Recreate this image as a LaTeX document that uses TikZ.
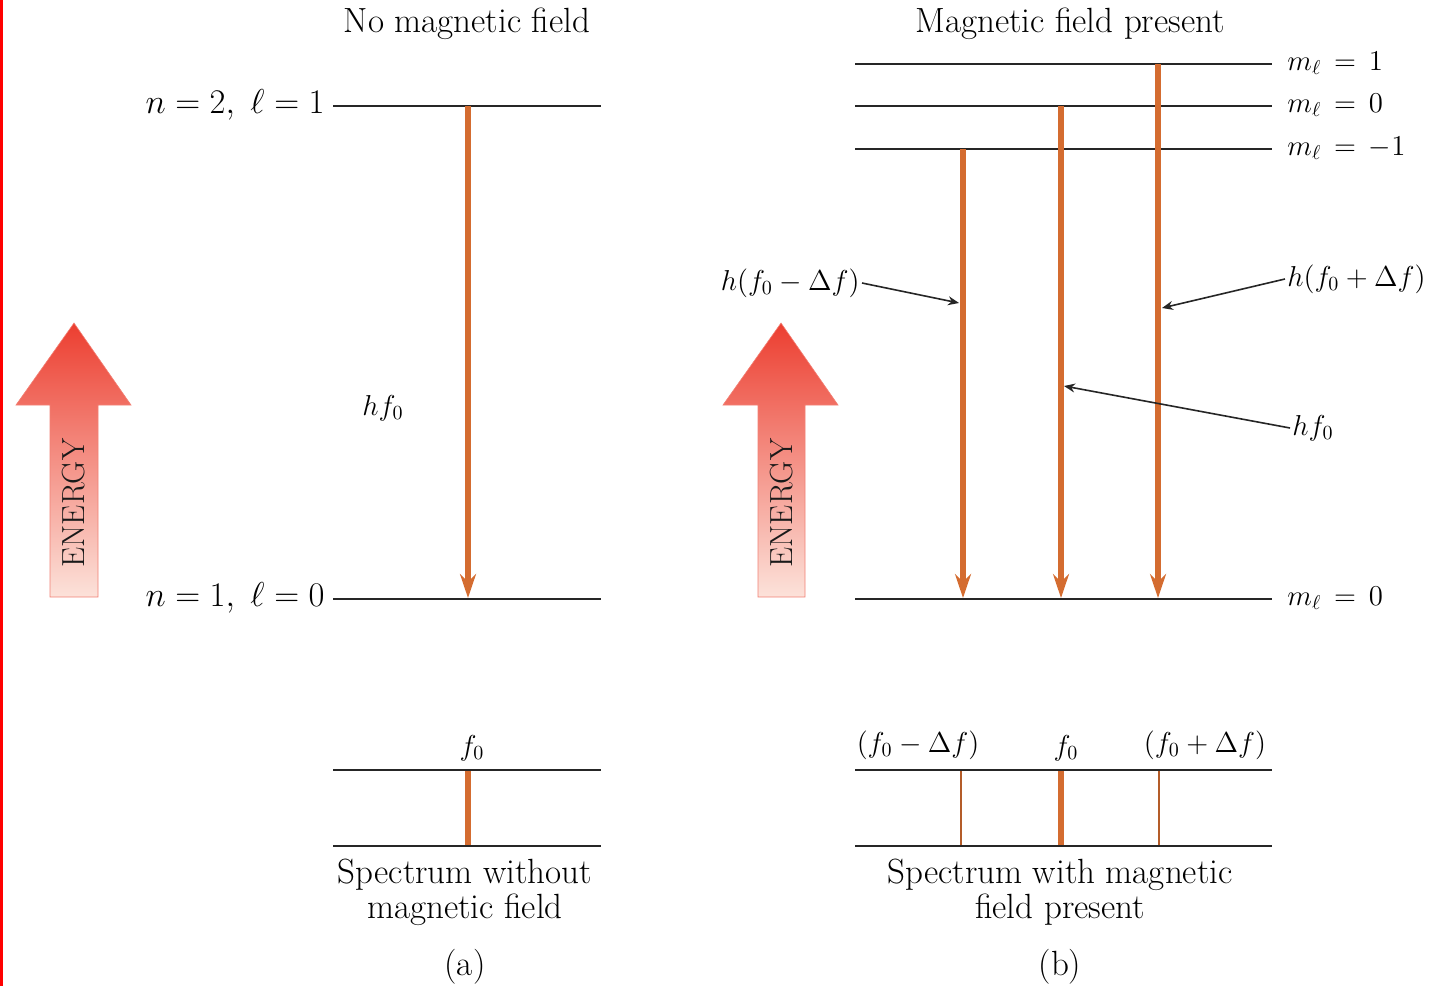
\documentclass[tikz,border=0pt]{standalone}
\usetikzlibrary{arrows.meta}
\definecolor{trans}{RGB}{212,108,48}
\definecolor{entop}{RGB}{236,62,48}
\definecolor{enbot}{RGB}{252,226,218}
\begin{document}
\begin{tikzpicture}[x=0.5pt, y=-0.5pt,
		every node/.style = {font=\fontsize{17.5}{17.5}\selectfont, inner sep=1pt},
		ml/.style = {font=\fontsize{14}{14}\selectfont},
		l/.style = {line width=1pt, draw=black!85},
		t/.style = {-{Stealth[length=12pt, width=8pt, inset=4pt]}, line width=2.6pt, draw=trans},
		p/.style = {-{Stealth[length=5.5pt, width=4.5pt]}, line width=0.8pt, draw=black!85},
		sk/.style = {line width=3pt, draw=trans},
		sn/.style = {line width=1pt, draw=trans!85!black},
		e/.style = {top color=entop, bottom color=enbot, draw=entop!60!enbot, line width=0.3pt},
		et/.style = {rotate=90, font=\fontsize{16}{16}\selectfont, text=black!90}
		]
		
		\useasboundingbox (0,0) rectangle (1433,986);
		\draw[red, line width=1.5pt] (1.5,0) -- (1.5,986);
		
		% === === (a) no field === ===
		\node			(a-title)	at	(467,24)		{No magnetic field};
		\coordinate		(a-u-w)		at	(333,106);
		\coordinate		(a-u-e)		at	(601,106);
		\coordinate		(a-d-w)		at	(333,599);
		\coordinate		(a-d-e)		at	(601,599);
		\coordinate		(a-top)		at	(468,106);
		\coordinate		(a-bot)		at	(468,598);
		\node[anchor=base east, font=\fontsize{16}{16}\selectfont]	(a-u-lab)	at	(327,113)	{$n = 2,\ \ell = 1$};
		\node[anchor=base east, font=\fontsize{16}{16}\selectfont]	(a-d-lab)	at	(327,606)	{$n = 1,\ \ell = 0$};
		\node[ml]		(a-hf)		at	(383,408)		{$hf_0$};
		
		\shade[e] (50,597) -- (50,405) -- (16,405) -- (74,323) -- (131,405) -- (98,405) -- (98,597) -- cycle;
		\node[et]		(a-en)		at	(74,503)		{ENERGY};
		
		\coordinate		(a-s1-w)	at	(333,770);
		\coordinate		(a-s1-e)	at	(601,770);
		\coordinate		(a-s2-w)	at	(333,846);
		\coordinate		(a-s2-e)	at	(601,846);
		\coordinate		(a-f-t)		at	(468,770);
		\coordinate		(a-f-b)		at	(468,846);
		\node[ml]		(a-f-lab)	at	(472,748)		{$f_0$};
		\node[align=center]	(a-cap)	at	(465,892)	{Spectrum without\\magnetic field};
		\node			(a-sub)		at	(465,967)		{(a)};
		
		% === === (b) field present === ===
		\node			(b-title)	at	(1070,24)		{Magnetic field present};
		\coordinate		(b-p-w)		at	(855,64);
		\coordinate		(b-p-e)		at	(1272,64);
		\coordinate		(b-z-w)		at	(855,106);
		\coordinate		(b-z-e)		at	(1272,106);
		\coordinate		(b-m-w)		at	(855,149);
		\coordinate		(b-m-e)		at	(1272,149);
		\coordinate		(b-d-w)		at	(855,599);
		\coordinate		(b-d-e)		at	(1272,599);
		\node[anchor=base west, ml]	(b-p-lab)	at	(1285,70)	{$m_\ell \,=\, 1$};
		\node[anchor=base west, ml]	(b-z-lab)	at	(1285,112)	{$m_\ell \,=\, 0$};
		\node[anchor=base west, ml]	(b-m-lab)	at	(1285,155)	{$m_\ell \,=\, -1$};
		\node[anchor=base west, ml]	(b-d-lab)	at	(1285,605)	{$m_\ell \,=\, 0$};
		
		\coordinate		(b-m-top)	at	(963,149);
		\coordinate		(b-m-bot)	at	(963,598);
		\coordinate		(b-z-top)	at	(1061,106);
		\coordinate		(b-z-bot)	at	(1061,598);
		\coordinate		(b-p-top)	at	(1158,64);
		\coordinate		(b-p-bot)	at	(1158,598);
		
		\shade[e] (758,597) -- (758,405) -- (723,405) -- (781,323) -- (838,405) -- (805,405) -- (805,597) -- cycle;
		\node[et]		(b-en)		at	(782,503)		{ENERGY};
		
		\node[ml, anchor=east]	(b-lm)	at	(862,283)	{$h(f_0 - \Delta f)$};
		\node[ml, anchor=east]	(b-lp)	at	(1428,279)	{$h(f_0 + \Delta f)$};
		\node[ml]		(b-lz)		at	(1313,428)		{$hf_0$};
		\coordinate		(b-lm-to)	at	(959,303);
		\coordinate		(b-lp-to)	at	(1162,308);
		\coordinate		(b-lz-to)	at	(1064,386);
		
		\coordinate		(b-s1-w)	at	(855,770);
		\coordinate		(b-s1-e)	at	(1272,770);
		\coordinate		(b-s2-w)	at	(855,846);
		\coordinate		(b-s2-e)	at	(1272,846);
		\node[ml]		(b-fm-lab)	at	(918,745)		{$(f_0 - \Delta f)$};
		\node[ml]		(b-fz-lab)	at	(1066,748)		{$f_0$};
		\node[ml]		(b-fp-lab)	at	(1205,745)		{$(f_0 + \Delta f)$};
		\node[align=center]	(b-cap)	at	(1060,892)	{Spectrum with magnetic\\field present};
		\node			(b-sub)		at	(1060,967)		{(b)};
		
		% === === Lines === ===
		\draw[l]	(a-u-w)		--	(a-u-e);
		\draw[l]	(a-d-w)		--	(a-d-e);
		\draw[t]	(a-top)		--	(a-bot);
		\draw[sk]	(a-f-t)		--	(a-f-b);
		\draw[l]	(a-s1-w)	--	(a-s1-e);
		\draw[l]	(a-s2-w)	--	(a-s2-e);
		
		\draw[l]	(b-p-w)		--	(b-p-e);
		\draw[l]	(b-z-w)		--	(b-z-e);
		\draw[l]	(b-m-w)		--	(b-m-e);
		\draw[l]	(b-d-w)		--	(b-d-e);
		\draw[t]	(b-m-top)	--	(b-m-bot);
		\draw[t]	(b-z-top)	--	(b-z-bot);
		\draw[t]	(b-p-top)	--	(b-p-bot);
		
		\draw[p]	(b-lm.east)	--	(b-lm-to);
		\draw[p]	(b-lp.west)	--	(b-lp-to);
		\draw[p]	(b-lz.west)	--	(b-lz-to);
		
		\draw[sn]	(961,770)	--	(961,846);
		\draw[sk]	(1061,770)	--	(1061,846);
		\draw[sn]	(1159,770)	--	(1159,846);
		\draw[l]	(b-s1-w)	--	(b-s1-e);
		\draw[l]	(b-s2-w)	--	(b-s2-e);
		
	\end{tikzpicture}
\end{document}
